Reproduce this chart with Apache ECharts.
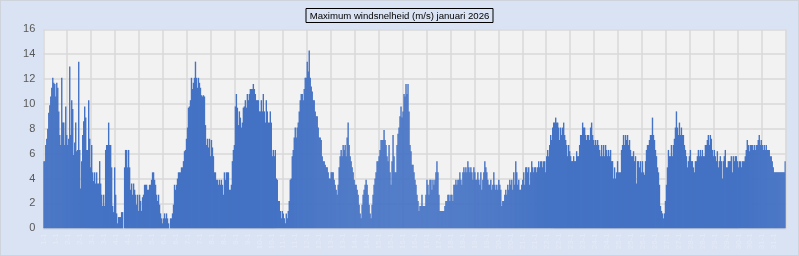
<!DOCTYPE html>
<html>
<head>
<meta charset="utf-8">
<script src="https://cdn.jsdelivr.net/npm/echarts@6/dist/echarts.min.js"></script>
<style>
html,body{margin:0;padding:0;background:#dae3f3;}
#wrap{position:absolute;left:0;top:0;width:799px;height:256px;box-sizing:border-box;border:1px solid #cfd4dc;background:#dae3f3;}
#chart{position:absolute;left:0;top:0;width:799px;height:256px;}
</style>
</head>
<body>
<div id="wrap"></div>
<div id="chart"></div>
<script>
// Maximum windsnelheid (m/s), uurwaarden per dag, januari 2026
const day01 = [5.4,5.4,6.7,7.2,8.0,9.3,9.9,10.6,11.3,12.1,11.7,11.6,10.6,11.7,11.3,9.4,7.5,6.7,12.1,8.5,8.5,6.7,9.8,7.5];
const day02 = [6.7,7.2,13.0,7.5,10.3,9.6,5.9,6.9,8.5,6.2,6.3,13.4,6.3,3.2,5.4,7.5,8.6,9.8,8.9,6.3,6.3,10.3,7.2,4.9];
const day03 = [6.7,4.5,3.8,4.5,3.6,4.5,3.6,3.6,5.4,3.6,2.7,1.8,2.7,1.8,6.3,6.7,6.7,8.5,6.7,6.7,4.9,1.8,1.3,4.9];
const day04 = [2.7,1.2,0.4,0.9,0.9,0.9,1.3,1.3,0,4.9,6.3,6.3,4.9,6.3,4.9,3.1,3.6,2.7,3.6,3.1,2.7,1.9,2.7,1.4];
const day05 = [2.7,2.2,1.4,2.5,2.7,3.5,3.5,3.5,3.1,3.1,3.5,3.5,3.9,4.5,4.5,3.9,3.5,2.7,2.2,2.7,1.9,1.2,0.8,0.4];
const day06 = [0.8,1.2,0.8,1.2,0.8,0.4,0,0.8,0.8,1.2,1.9,3.5,3.1,3.5,4.0,4.5,4.5,4.5,4.9,4.9,5.4,6.2,6.3,7.2];
const day07 = [8.1,9.7,9.8,10.3,12.1,11.2,11.7,12.1,13.4,12.1,11.3,12.1,11.7,11.3,10.7,10.6,10.7,10.6,8.3,6.7,7.2,6.5,7.2,5.8];
const day08 = [7.1,6.5,5.8,4.5,4.5,3.9,3.9,3.5,3.9,3.5,3.9,3.5,2.7,4.5,3.9,4.5,4.5,4.5,3.1,3.1,3.5,5.4,6.3,6.7];
const day09 = [9.8,10.8,9.7,8.3,9.4,8.9,8.1,8.5,9.7,9.8,10.3,9.7,10.8,10.3,10.8,11.2,11.2,11.2,11.6,11.2,10.8,10.3,10.3,10.3];
const day10 = [9.4,9.4,10.3,9.4,10.8,9.4,8.5,10.3,9.4,8.5,8.5,9.4,8.5,5.8,6.3,5.8,6.3,4.0,3.9,2.2,2.2,1.4,0.8,1.4];
const day11 = [1.2,0.8,0.4,1.2,0.8,1.4,2.2,3.9,4.0,5.8,6.3,7.3,8.1,7.3,8.1,8.5,9.4,10.3,10.8,10.8,10.3,11.2,12.1,12.1];
const day12 = [13.4,12.6,14.3,12.1,11.4,11.0,10.3,10.3,9.4,9.0,9.0,8.1,7.3,7.3,7.1,5.8,5.4,5.4,5.1,4.9,4.9,4.5,4.0,4.0];
const day13 = [4.5,4.5,4.5,3.9,3.5,3.1,2.7,3.5,4.9,5.8,6.3,5.8,6.7,6.3,6.7,5.8,7.3,8.5,6.7,5.8,5.4,4.9,4.5,3.9];
const day14 = [3.5,3.5,3.1,2.7,1.9,1.2,0.8,1.9,2.7,3.1,3.5,3.9,3.5,2.7,1.9,1.2,0.8,1.9,2.7,3.5,4.0,4.5,5.4,5.4];
const day15 = [5.8,6.3,7.1,7.1,7.1,7.9,7.1,6.7,5.8,5.4,6.7,4.5,3.5,5.4,7.5,5.8,4.5,4.5,6.7,7.6,8.1,9.0,9.8,8.9];
const day16 = [9.4,10.8,10.6,11.6,10.8,11.6,9.4,6.7,6.2,5.1,5.1,4.5,3.9,3.5,2.7,2.2,1.4,1.8,1.8,2.7,1.8,1.8,1.8,2.7];
const day17 = [3.9,3.5,2.7,3.9,3.9,3.1,3.9,3.5,3.9,4.5,5.4,4.5,2.7,1.4,1.4,1.4,1.4,1.4,1.8,2.2,2.2,2.7,2.7,2.2];
const day18 = [2.7,2.7,2.2,3.5,3.5,3.9,3.5,3.9,3.9,4.5,3.9,3.5,4.5,4.9,4.5,4.9,4.5,5.4,4.9,4.5,4.9,4.5,3.9,4.9];
const day19 = [4.5,3.9,3.9,4.5,3.9,3.5,4.5,3.1,3.9,4.5,5.4,4.9,4.5,3.9,3.5,3.5,3.9,3.1,3.5,4.5,3.5,3.1,3.5,3.1];
const day20 = [3.9,3.5,3.1,1.8,2.2,2.2,2.7,3.1,2.7,3.5,3.1,3.9,3.5,3.9,3.1,4.5,3.5,5.4,4.5,3.5,3.9,3.1,3.1,3.5];
const day21 = [3.9,4.5,3.5,4.9,4.9,4.5,4.9,3.5,4.5,5.4,4.9,4.5,4.9,4.9,4.5,4.9,5.4,4.9,5.4,5.4,4.9,5.4,5.4,4.5];
const day22 = [5.8,6.3,5.8,6.7,7.5,7.1,8.1,8.5,8.5,8.9,8.5,8.5,8.1,7.1,8.1,7.5,8.1,8.5,7.5,7.1,6.7,5.8,6.7,6.2];
const day23 = [5.8,5.4,5.4,5.8,5.4,5.4,6.2,5.8,5.8,6.7,7.5,7.5,8.5,8.1,8.1,7.5,7.1,7.5,7.5,7.1,8.1,8.5,7.5,7.1];
const day24 = [6.7,7.1,6.7,7.1,6.7,6.3,5.8,6.7,5.8,6.7,5.8,6.7,6.3,5.8,6.3,5.8,6.3,5.4,5.4,4.0,4.9,4.0,4.5,5.4];
const day25 = [4.5,4.5,4.5,6.3,6.7,7.5,6.7,7.5,7.1,7.5,6.7,7.1,6.3,5.8,5.8,6.2,5.4,5.8,3.6,5.4,5.4,4.9,5.4,4.5];
const day26 = [5.4,4.5,4.3,5.4,6.3,6.7,6.7,7.1,7.5,7.5,8.9,7.5,7.1,6.3,5.8,4.9,4.5,3.5,1.8,1.4,1.2,0.8,1.2,2.2];
const day27 = [3.5,4.9,6.3,5.8,5.8,6.7,5.8,6.7,7.2,8.1,9.4,8.1,7.5,8.5,7.5,8.1,7.5,7.5,6.7,6.3,5.8,4.9,5.4,5.8];
const day28 = [6.3,5.4,5.4,4.9,4.5,5.4,5.4,5.8,6.3,5.8,6.3,5.8,6.3,5.8,5.8,6.7,6.7,7.1,7.5,6.7,7.5,7.2,6.3,5.8];
const day29 = [6.3,5.8,5.4,6.2,4.9,5.4,5.8,5.4,4.0,5.4,5.8,6.3,4.9,4.9,5.4,5.4,5.4,5.8,4.5,5.8,5.4,5.8,5.8,5.4];
const day30 = [4.9,5.4,5.4,4.9,5.4,5.4,5.4,5.8,6.3,7.1,6.7,6.2,6.7,6.7,6.7,6.3,6.7,6.3,6.7,6.7,7.1,7.5,6.7,7.1];
const day31 = [6.7,6.3,6.7,6.3,6.7,6.3,6.3,6.3,5.8,5.8,5.4,4.9,4.5,4.5,4.5,4.5,4.5,4.5,4.5,4.5,4.5,4.5,4.5,5.4];

const days = [day01,day02,day03,day04,day05,day06,day07,day08,day09,day10,day11,day12,day13,day14,day15,day16,day17,day18,day19,day20,day21,day22,day23,day24,day25,day26,day27,day28,day29,day30,day31];
const hourLabels = ['0:00','1:00','2:00','3:00','4:00','5:00','6:00','7:00','8:00','9:00','10:00','11:00','12:00','13:00','14:00','15:00','16:00','17:00','18:00','19:00','20:00','21:00','22:00','23:00'];
const yTicks = [0,2,4,6,8,10,12,14,16];
const titleText = 'Maximum windsnelheid (m/s) januari 2026';

const categories = [];
const values = [];
days.forEach((d, di) => {
  d.forEach((v, hi) => {
    categories.push((di + 1) + '-1 ' + hourLabels[hi]);
    values.push(v);
  });
});

const chart = echarts.init(document.getElementById('chart'), null, {renderer: 'canvas'});
chart.setOption({
  animation: false,
  backgroundColor: 'transparent',
  title: {
    text: titleText,
    left: 'center',
    top: 8,
    padding: [3, 4, 2, 4],
    borderColor: '#000000',
    borderWidth: 1,
    backgroundColor: '#dae3f3',
    textStyle: {fontFamily: 'Liberation Sans', fontSize: 9.6, fontWeight: 'normal', color: '#000000'}
  },
  grid: {
    left: 43.3, right: 13.3, top: 29.3, bottom: 27.7,
    show: true, backgroundColor: '#f2f2f2', borderWidth: 0
  },
  xAxis: {
    type: 'category',
    data: categories,
    boundaryGap: true,
    axisLine: {show: true, lineStyle: {color: '#d9d9d9', width: 1.5}},
    axisTick: {show: false},
    splitLine: {show: true, interval: 23, lineStyle: {color: '#d9d9d9', width: 1.5}},
    axisLabel: {
      interval: 11, rotate: 90, fontSize: 8, color: '#e4eaf6', margin: 5,
      fontFamily: 'Liberation Sans',
      formatter: (v) => v.split(' ')[0]
    }
  },
  yAxis: {
    type: 'value',
    min: yTicks[0], max: yTicks[yTicks.length - 1], interval: 2,
    axisLine: {show: false},
    axisTick: {show: false},
    splitLine: {show: true, lineStyle: {color: '#d9d9d9', width: 1.5}},
    axisLabel: {color: '#595959', fontSize: 11, margin: 8, fontFamily: 'Liberation Sans'}
  },
  series: [{
    type: 'bar',
    data: values,
    barWidth: 1.4,
    itemStyle: {color: '#4472c4'},
    emphasis: {disabled: true}
  }]
});
</script>
</body>
</html>
